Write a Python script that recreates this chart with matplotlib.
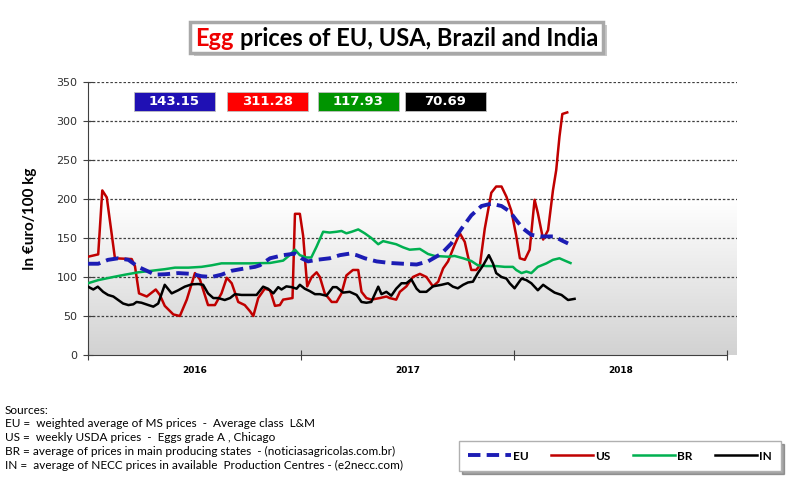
import numpy as np
import matplotlib
matplotlib.use("Agg")
import matplotlib.pyplot as plt
from matplotlib.patches import Rectangle
from matplotlib.colors import LinearSegmentedColormap

# weeks since start of 2016 and prices (euro/100 kg)
us_weeks = [0, 2.5, 3.5, 4.6, 6.6, 10.7, 11.5, 12.5, 14.4, 16.6, 17.6, 18.8, 20.9, 22.5, 24.2,
            26.2, 27.4, 29.4, 31.1, 32.7, 34, 35.2, 36.8, 38.4, 39.7, 40.5, 41.7, 43.3, 44.6,
            45.8, 47, 47.8, 50.1, 50.7, 51.9, 52.7, 53.7, 54.8, 56, 56.8, 58, 59.7, 60.9, 62.1,
            63.3, 64.9, 66.2, 67, 68.2, 69.4, 71.5, 73.1, 73.9, 75.5, 76.4, 78, 79.6, 81.3,
            82.9, 84.5, 85.8, 87, 88.2, 89.8, 91.1, 92.3, 93.1, 93.9, 95.1, 96, 97.2, 98.8,
            100, 101.3, 102.5, 103.7, 104.9, 105.8, 107, 108.2, 109.4, 110.2, 111.5, 112.7,
            113.9, 114.7, 115.5, 116.2, 117.4]
us_vals = [126, 129, 211, 202, 124, 123, 114, 79, 75, 84, 77, 63, 52, 50, 71,
           105, 97, 64, 64, 79, 99, 92, 68, 64, 56, 50, 73, 85, 83,
           63, 64, 71, 73, 181, 181, 153, 88, 100, 106, 100, 79, 68, 68, 79,
           102, 109, 109, 81, 73, 71, 73, 75, 73, 71, 81, 88, 100, 104,
           100, 88, 94, 111, 120, 141, 156, 145, 126, 109, 109, 115, 162, 208,
           216, 216, 203, 185, 153, 124, 122, 135, 199, 182, 148, 160,
           211, 237, 280, 309, 311]

eu_weeks = [0, 2.5, 4.9, 7.4, 9.9, 12.3, 14.8, 16.4, 18.8, 22.1, 25.4, 27.8, 30.3, 32.7, 35.2,
            38.4, 40.9, 42.1, 44.6, 47.8, 50.7, 52.3, 53.9, 56, 59.2, 61.7, 64.1, 65.8, 67.8,
            70.7, 73.9, 77.2, 80.5, 83.3, 86.6, 89, 91.5, 93.9, 96.4, 98.8, 101.3, 103.3,
            104.9, 106.6, 108.6, 111.1, 114.3, 116, 117.6]
eu_vals = [117, 117, 122, 124, 122, 113, 107, 103, 103.5, 105, 104, 101, 100, 103, 108,
           111, 113, 115, 124, 128, 130, 124, 120, 122, 124, 128, 130, 128, 124,
           120, 118, 117, 116, 120, 130, 143, 162, 179, 191, 194, 191, 184,
           173, 162, 154, 152, 152, 147, 143]

br_weeks = [0, 2.5, 5.8, 9.1, 12.3, 15.6, 18.8, 21.3, 24.6, 27.8, 30.3, 32.7, 36, 39.7, 44.6,
            47.8, 49.4, 50.7, 51.9, 53.5, 54.7, 56, 57.6, 59.2, 60.9, 62.1, 63.3, 64.6, 66.2,
            67.8, 69.4, 71.1, 72.3, 73.9, 75.5, 77.2, 78.8, 81.3, 83.3, 84.9, 88.2, 89.8,
            91.9, 93.9, 95.5, 97.6, 100, 102.1, 104.1, 104.9, 106.2, 107.4, 108.6, 110.2,
            112.3, 113.9, 115.5, 116.8, 118.2]
br_vals = [92, 96, 99.6, 103, 106, 108, 110, 112, 112, 113, 115, 117.5, 117.5, 117.5, 118,
           121, 128, 135, 128, 125, 125, 139, 158, 157, 158, 159, 156, 158, 161,
           156, 150, 142, 146, 144, 142, 138, 135, 136, 129.5, 127, 126, 127,
           124, 120.5, 115, 114, 114, 113, 113, 109, 105, 107, 105, 113,
           117.5, 122, 124, 121, 117.9]

in_weeks = [0, 1.3, 2.4, 3.7, 4.9, 6.2, 7.4, 8.6, 9.9, 11.1, 11.9, 13.1, 14.8, 16, 17.2, 18.8,
            20.5, 22.1, 23.7, 25.4, 27, 28.2, 29.4, 30.7, 31.9, 33.5, 34.8, 36, 37.6, 39.2,
            41.3, 42.9, 44.1, 45.4, 46.6, 47.4, 48.6, 49.9, 51.1, 51.9, 53.1, 54.3, 55.6,
            56.8, 58.4, 60, 60.9, 62.5, 64.1, 65.8, 67, 68.2, 69.4, 71.1, 71.9, 73.1, 74.3,
            75.5, 76.8, 78, 79.2, 80.5, 81.3, 82.9, 84.5, 86.6, 88.2, 89.4, 90.6, 91.9, 93.1,
            94.3, 95.5, 96.8, 98.2, 99.2, 100, 101.3, 102.5, 103.3, 104.5, 106.2, 107.4,
            108.6, 110.2, 111.5, 112.7, 114.3, 116, 117.6, 119.2]
in_vals = [87.6, 84, 87.6, 81, 77, 75, 70.5, 66, 64, 65, 68, 67, 64, 62, 66, 90,
           79, 83, 87.6, 90.6, 91, 90, 79, 73, 73, 70.5, 73, 78, 77, 77,
           77, 87.6, 85, 79, 87, 84, 88, 87, 85, 90, 85, 82, 78,
           78, 76, 87, 87, 80, 81, 77, 68, 67, 68, 87.6, 78, 81, 76,
           85, 92, 92, 97, 85, 81, 81, 88, 90, 92, 87.6, 85.5, 90, 93,
           94, 105, 115, 128, 117.5, 105, 100, 98, 92, 85.5, 98, 96,
           92, 83, 90, 85.5, 80, 77, 70.5, 72]

last_values = ["143.15", "311.28", "117.93", "70.69"]
box_colors = ["#1f10b4", "#ff0000", "#009400", "#000000"]
years = ["2016", "2017", "2018"]
week_per_year = 52.18

W, H = 799, 492
fig = plt.figure(figsize=(W / 100, H / 100), dpi=100)
ax = fig.add_axes([88 / W, 1 - 355 / H, (737 - 88) / W, (355 - 82) / H])

xmax = 3 * week_per_year
xend = xmax * (737 - 88) / (727 - 88)
# plot area gradient: grey at bottom fading to white
grad = np.linspace(0, 1, 256).reshape(-1, 1)
cmap = LinearSegmentedColormap.from_list("bg", ["#d2d2d2", "#ffffff"])
ax.imshow(grad, extent=(0, xend, 0, 200), origin="lower", aspect="auto", cmap=cmap, zorder=0)

ax.plot(us_weeks, us_vals, color="#c00000", lw=1.8, zorder=3, label="US")
ax.plot(br_weeks, br_vals, color="#00b050", lw=1.8, zorder=3, label="BR")
ax.plot(in_weeks, in_vals, color="#000000", lw=1.8, zorder=3, label="IN")
ax.plot(eu_weeks, eu_vals, color="#1c1cb4", lw=2.8, ls=(0, (3.2, 1.6)), zorder=4, label="EU")

ax.set_xlim(0, xend)
ax.set_ylim(0, 350)
ax.set_yticks(np.arange(0, 351, 50))
for v in range(50, 351, 50):
    ax.axhline(v, color="#404040", lw=0.9, ls=(0, (2, 1.5)), zorder=1)

ax.set_xticks([i * week_per_year for i in range(4)])
ax.set_xticklabels([])
ax.set_xticks([(i + 0.5) * week_per_year for i in range(3)], minor=True)
ax.set_xticklabels(years, minor=True, fontsize=6.5, fontweight="bold")
ax.tick_params(axis="x", which="major", direction="inout", length=7, color="#404040")
ax.tick_params(axis="x", which="minor", length=0, pad=8)
ax.tick_params(axis="y", direction="inout", length=7, color="#404040", labelsize=8,
               labelcolor="#303030", pad=4)
for s in ["top", "right"]:
    ax.spines[s].set_visible(False)
for s in ["left", "bottom"]:
    ax.spines[s].set_color("#404040")
ax.spines["bottom"].set_bounds(0, xmax)
ax.set_ylabel("In €uro/100 kg", fontsize=11, fontweight="bold", family="Lato", labelpad=14)

# title box
fig.patches.append(Rectangle((194 / W, 1 - 56 / H), 413 / W, 31 / H, transform=fig.transFigure,
                             facecolor="#c8c8c8", edgecolor="none", zorder=0))
fig.patches.append(Rectangle((190 / W, 1 - 53 / H), 413 / W, 31 / H, transform=fig.transFigure,
                             facecolor="white", edgecolor="#a8a8a8", lw=2.5, zorder=1))
t1 = fig.text(195 / W, 1 - 38 / H, "Egg", color="#ee0000", fontsize=17, fontweight="bold",
              family="Lato", va="center", ha="left")
fig.canvas.draw()
bb = t1.get_window_extent()
fig.text((bb.x1 + 6) / W, 1 - 38 / H, "prices of EU, USA, Brazil and India", color="black",
         fontsize=17, fontweight="bold", family="Lato", va="center", ha="left")

# last value boxes
for i, (val, col) in enumerate(zip(last_values, box_colors)):
    x0 = [134, 227, 318, 405][i]
    fig.patches.append(Rectangle((x0 / W, 1 - 111 / H), 81 / W, 19 / H, transform=fig.transFigure,
                                 facecolor=col, edgecolor="#c0c0c0", lw=0.6))
    fig.text((x0 + 40.5) / W, 1 - 101.5 / H, val, color="white", fontsize=9.5,
             fontweight="bold", ha="center", va="center")

# sources
src = ["Sources:",
       "EU =  weighted average of MS prices  -  Average class  L&M",
       "US =  weekly USDA prices  -  Eggs grade A , Chicago",
       "BR = average of prices in main producing states  - (noticiasagricolas.com.br)",
       "IN =  average of NECC prices in available  Production Centres - (e2necc.com)"]
for i, line in enumerate(src):
    fig.text(5 / W, 1 - (410 + i * 13.8) / H, line, fontsize=8.5, family="Lato",
             va="center", ha="left")

# legend
h, l = ax.get_legend_handles_labels()
order = [3, 0, 1, 2]
leg = fig.legend([h[i] for i in order], [l[i] for i in order], ncol=4,
                 loc="center", bbox_to_anchor=(620 / W, 1 - 456 / H),
                 handlelength=3.6, columnspacing=1.9, handletextpad=0.15,
                 fancybox=False, shadow=True, edgecolor="#b0b0b0",
                 prop={"weight": "bold", "size": 8.5, "family": "Lato"},
                 borderpad=0.8, borderaxespad=0)

fig.savefig("out.png", dpi=100)
